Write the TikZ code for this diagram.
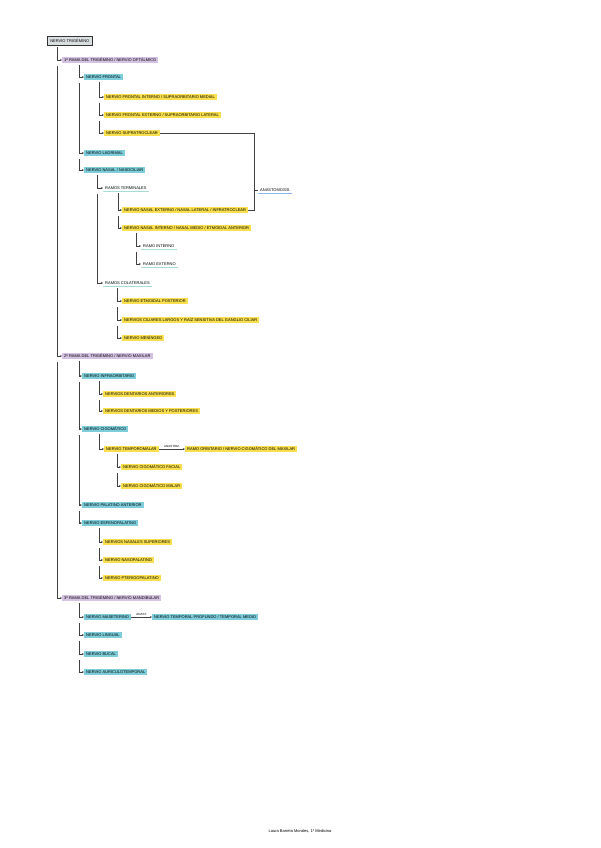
\documentclass[tikz,border=0pt]{standalone}
\usepackage{fontspec}
\setmainfont{Liberation Sans}
\usetikzlibrary{arrows.meta}
\definecolor{azul}{HTML}{7ECDDA}
\definecolor{lila}{HTML}{D5C2E2}
\definecolor{amarillo}{HTML}{F9DF4E}
\definecolor{verdeul}{HTML}{A8DCD2}
\definecolor{azulul}{HTML}{8CB8EC}

\begin{document}
\begin{tikzpicture}[x=1pt,y=-1pt,
    txt/.style={anchor=west,inner xsep=2pt,inner ysep=1.3pt,font=\fontsize{4}{4}\selectfont,text height=3pt,text depth=0.6pt},
    rama/.style={txt,fill=lila},
    nervio/.style={txt,fill=azul},
    hoja/.style={txt,fill=amarillo},
    linea/.style={draw=black!75,line width=0.5pt,-{Stealth[length=2pt,width=1.8pt]}},
    subr/.style={verdeul,line width=0.9pt},
    subra/.style={azulul,line width=0.9pt}
  ]
  \useasboundingbox[fill=white] (0,0) rectangle (600,848);

  % columnas de las lineas
  \coordinate (s0) at (57,0);
  \coordinate (s1) at (79,0);
  \coordinate (s2) at (99,0);
  \coordinate (s3) at (97,0);
  \coordinate (s4) at (118,0);
  \coordinate (s5) at (136,0);
  \coordinate (s6) at (117,0);
  \coordinate (br) at (254,0);

  \node[txt,draw=black!80,fill=azul!25!gray!30,line width=0.6pt,inner xsep=3pt,inner ysep=2.5pt] (tri) at (47,41) {NERVIO TRIGÉMINO};

  % primera rama
  \node[rama] (r1) at (62,60) {1ª RAMA DEL TRIGÉMINO / NERVIO OFTÁLMICO};
  \node[nervio] (fro) at (84,77) {NERVIO FRONTAL};
  \node[hoja] (fint) at (104,97) {NERVIO FRONTAL INTERNO / SUPRAORBITARIO MEDIAL};
  \node[hoja] (fext) at (104,115) {NERVIO FRONTAL EXTERNO / SUPRAORBITARIO LATERAL};
  \node[hoja] (supra) at (104,133) {NERVIO SUPRATROCLEAR};
  \node[nervio] (lag) at (84,153) {NERVIO LAGRIMAL};
  \node[nervio] (nas) at (84,170) {NERVIO NASAL / NASOCILIAR};
  \node[txt] (term) at (103,188) {RAMOS TERMINALES};
  \node[hoja] (next) at (122,210) {NERVIO NASAL EXTERNO / NASAL LATERAL / INFRATROCLEAR};
  \node[hoja] (nint) at (122,228) {NERVIO NASAL INTERNO / NASAL MEDIO / ETMOIDAL ANTERIOR};
  \node[txt] (rint) at (141,246) {RAMO INTERNO};
  \node[txt] (rext) at (141,264) {RAMO EXTERNO};
  \node[txt] (col) at (103,283) {RAMOS COLATERALES};
  \node[hoja] (etm) at (122,301) {NERVIO ETMOIDAL POSTERIOR};
  \node[hoja] (cil) at (122,320) {NERVIOS CILIARES LARGOS Y RAÍZ SENSITIVA DEL GANGLIO CILIAR};
  \node[hoja] (men) at (122,338) {NERVIO MENÍNGEO};
  \node[txt] (anas) at (258,190) {ANASTOMOSIS};

  % segunda rama
  \node[rama] (r2) at (62,356) {2ª RAMA DEL TRIGÉMINO / NERVIO MAXILAR};
  \node[nervio] (inf) at (82,376) {NERVIO INFRAORBITARIO};
  \node[hoja] (dant) at (103,394) {NERVIOS DENTARIOS ANTERIORES};
  \node[hoja] (dmed) at (103,411) {NERVIOS DENTARIOS MEDIOS Y POSTERIORES};
  \node[nervio] (cig) at (82,429) {NERVIO CIGOMÁTICO};
  \node[hoja] (tmal) at (104,449) {NERVIO TEMPOROMALAR};
  \node[hoja] (orb) at (185,449) {RAMO ORBITARIO / NERVIO CIGOMÁTICO DEL MAXILAR};
  \node[hoja] (cfac) at (121,467) {NERVIO CIGOMÁTICO FACIAL};
  \node[hoja] (cmal) at (121,486) {NERVIO CIGOMÁTICO MALAR};
  \node[nervio] (pal) at (82,505) {NERVIO PALATINO ANTERIOR};
  \node[nervio] (esf) at (82,523) {NERVIO ESFENOPALATINO};
  \node[hoja] (nsup) at (103,542) {NERVIOS NASALES SUPERIORES};
  \node[hoja] (npal) at (103,560) {NERVIO NASOPALATINO};
  \node[hoja] (pter) at (103,578) {NERVIO PTERIGOPALATINO};

  % tercera rama
  \node[rama] (r3) at (62,598) {3ª RAMA DEL TRIGÉMINO / NERVIO MANDIBULAR};
  \node[nervio] (mas) at (84,617) {NERVIO MASETERINO};
  \node[nervio] (tprof) at (152,617) {NERVIO TEMPORAL PROFUNDO / TEMPORAL MEDIO};
  \node[nervio] (lin) at (84,635) {NERVIO LINGUAL};
  \node[nervio] (buc) at (84,654) {NERVIO BUCAL};
  \node[nervio] (aur) at (84,672) {NERVIO AURICULOTEMPORAL};

  \node[font=\fontsize{4}{4}\selectfont] (pie) at (300,831) {Laura Barreto Morales, 1º Medicina};

  % subrayados
  \draw[subr] (term.south west) -- (term.south east);
  \draw[subr] (col.south west) -- (col.south east);
  \draw[subr] (rint.south west) -- (rint.south east);
  \draw[subr] (rext.south west) -- (rext.south east);
  \draw[subra] (anas.south west) -- (anas.south east);

  % lineas
  \draw[linea] ([yshift=-1pt]tri.south -| s0) |- (r1.west);
  \draw[linea] ([yshift=-3pt]r1.south -| s0) |- (r2.west);
  \draw[linea] ([yshift=-3pt]r2.south -| s0) |- (r3.west);

  \draw[linea] ([yshift=-2pt]r1.south -| s1) |- (fro.west);
  \draw[linea] ([yshift=-3pt]fro.south -| s1) |- (lag.west);
  \draw[linea] ([yshift=-3pt]lag.south -| s1) |- (nas.west);
  \draw[linea] ([yshift=-2pt]fro.south -| s2) |- (fint.west);
  \draw[linea] ([yshift=-3pt]fint.south -| s2) |- (fext.west);
  \draw[linea] ([yshift=-3pt]fext.south -| s2) |- (supra.west);
  \draw[linea] ([yshift=-2pt]nas.south -| s3) |- (term.west);
  \draw[linea] ([yshift=-3pt]term.south -| s3) |- (col.west);
  \draw[linea] ([yshift=-2pt]term.south -| s4) |- (next.west);
  \draw[linea] ([yshift=-3pt]next.south -| s4) |- (nint.west);
  \draw[linea] ([yshift=-2pt]nint.south -| s5) |- (rint.west);
  \draw[linea] ([yshift=-3pt]rint.south -| s5) |- (rext.west);
  \draw[linea] ([yshift=-2pt]col.south -| s6) |- (etm.west);
  \draw[linea] ([yshift=-3pt]etm.south -| s6) |- (cil.west);
  \draw[linea] ([yshift=-3pt]cil.south -| s6) |- (men.west);

  % anastomosis
  \draw[draw=black!75,line width=0.5pt] (supra.east) -- (supra.east -| br) -- (next.east -| br) -- (next.east);
  \draw[draw=black!75,line width=0.5pt] (anas.west -| br) -- (anas.west);

  \draw[linea] ([yshift=-2pt]r2.south -| s1) |- (inf.west);
  \draw[linea] ([yshift=-3pt]inf.south -| s1) |- (cig.west);
  \draw[linea] ([yshift=-3pt]cig.south -| s1) |- (pal.west);
  \draw[linea] ([yshift=-3pt]pal.south -| s1) |- (esf.west);
  \draw[linea] ([yshift=-2pt]inf.south -| s2) |- (dant.west);
  \draw[linea] ([yshift=-3pt]dant.south -| s2) |- (dmed.west);
  \draw[linea] ([yshift=-2pt]cig.south -| s2) |- (tmal.west);
  \draw[linea] ([yshift=-2pt]tmal.south -| s6) |- (cfac.west);
  \draw[linea] ([yshift=-3pt]cfac.south -| s6) |- (cmal.west);
  \draw[linea] (tmal.east) -- node[above,font=\fontsize{3}{3}\selectfont,inner sep=1pt] {ANASTOM.} (orb.west);
  \draw[linea] ([yshift=-2pt]esf.south -| s2) |- (nsup.west);
  \draw[linea] ([yshift=-3pt]nsup.south -| s2) |- (npal.west);
  \draw[linea] ([yshift=-3pt]npal.south -| s2) |- (pter.west);

  \draw[linea] ([yshift=-2pt]r3.south -| s1) |- (mas.west);
  \draw[linea] ([yshift=-3pt]mas.south -| s1) |- (lin.west);
  \draw[linea] ([yshift=-3pt]lin.south -| s1) |- (buc.west);
  \draw[linea] ([yshift=-3pt]buc.south -| s1) |- (aur.west);
  \draw[linea] (mas.east) -- node[above,font=\fontsize{3}{3}\selectfont,inner sep=1pt] {ANAST.} (tprof.west);
\end{tikzpicture}
\end{document}
